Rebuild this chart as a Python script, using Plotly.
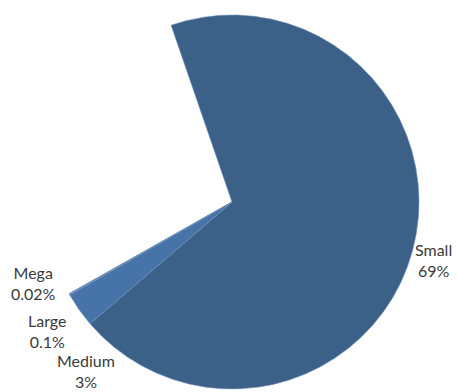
import plotly.graph_objects as go

# Data
categories = ["Small", "Medium", "Large", "Mega"]
shares = [69, 3, 0.1, 0.02]
share_labels = ["69%", "3%", "0.1%", "0.02%"]
hidden_share = 100 - sum(shares)  # portion not drawn (blank wedge)

slice_colors = ["#3b6189", "#4674a8", "#5a86b8", "#6b93c2"]

values = shares + [hidden_share]
labels = categories + ["(other)"]
colors = slice_colors + ["rgba(0,0,0,0)"]

fig = go.Figure(
    go.Pie(
        values=values,
        labels=labels,
        sort=False,
        direction="clockwise",
        rotation=-19,
        textinfo="none",
        hoverinfo="skip",
        showlegend=False,
        marker=dict(
            colors=colors,
            line=dict(color=["#6f8fb5", "#6f8fb5", "#6f8fb5", "#6f8fb5", "rgba(0,0,0,0)"],
                      width=[0.6, 0.6, 0.6, 0.6, 0]),
        ),
        domain=dict(x=[45 / 458, 419 / 458], y=[3 / 392, 377 / 392]),
    )
)

# label positions (paper coords) for each category's text
label_pos = {
    "Small": (433, 260),
    "Medium": (86, 371),
    "Large": (47, 331),
    "Mega": (33, 283),
}
W, H = 458, 392
for cat, pct in zip(categories, share_labels):
    px, py = label_pos[cat]
    fig.add_annotation(
        x=px / W, y=1 - py / H, xref="paper", yref="paper",
        text=f"{cat}<br>{pct}", showarrow=False, align="center",
        xanchor="center", yanchor="middle",
        font=dict(family="Lato", size=16, color="#3a3a3a"),
    )

fig.update_layout(
    width=458, height=392,
    margin=dict(l=0, r=0, t=0, b=0),
    paper_bgcolor="white", plot_bgcolor="white",
)

fig.write_html("out.html")
